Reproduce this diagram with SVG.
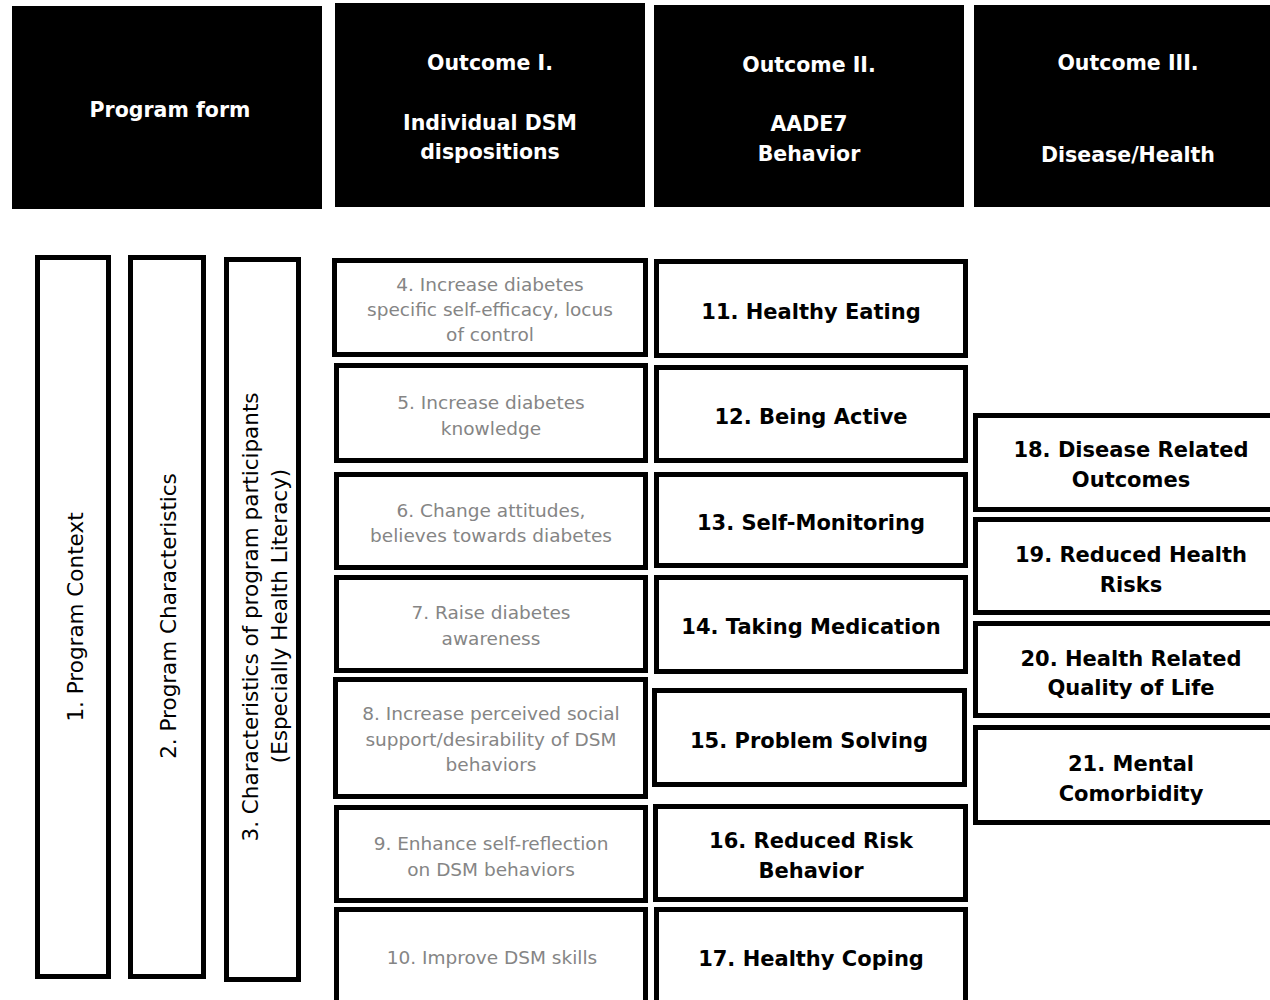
<svg xmlns="http://www.w3.org/2000/svg" width="1270" height="1000" viewBox="0 0 1270 1000">
<style>
.hdr{fill:#000}
.ht{fill:#fff;font-family:"DejaVu Sans",Verdana,sans-serif;font-weight:bold;font-size:20.5px;text-anchor:middle}
.box{fill:#fff;stroke:#000;stroke-width:5}
.vt{fill:#000;font-family:"DejaVu Sans",Verdana,sans-serif;font-size:21.5px;text-anchor:middle}
.gt{fill:#858585;font-family:"DejaVu Sans",Verdana,sans-serif;font-size:18.5px;text-anchor:middle}
.bt{fill:#000;font-family:"DejaVu Sans",Verdana,sans-serif;font-weight:bold;font-size:21px;text-anchor:middle}
</style>
<rect width="1270" height="1000" fill="#fff"/>
<g id="headers">
<g id="h-program-form"><rect class="hdr" x="12" y="6" width="310" height="203"/><text class="ht" x="170" y="117">Program form</text></g>
<g id="h-outcome1"><rect class="hdr" x="335" y="3" width="310" height="204"/><text class="ht" x="490" y="70">Outcome I.</text><text class="ht" x="490" y="130">Individual DSM</text><text class="ht" x="490" y="159">dispositions</text></g>
<g id="h-outcome2"><rect class="hdr" x="654" y="5" width="310" height="202"/><text class="ht" x="809" y="72">Outcome II.</text><text class="ht" x="809" y="131">AADE7</text><text class="ht" x="809" y="161">Behavior</text></g>
<g id="h-outcome3"><rect class="hdr" x="974" y="5" width="300" height="202"/><text class="ht" x="1128" y="70">Outcome III.</text><text class="ht" x="1128" y="162">Disease/Health</text></g>
</g>
<g id="connectors"></g>
<g id="n1"><rect class="box" x="37.5" y="257.5" width="71" height="719"/><text class="vt" transform="translate(83,617) rotate(-90)">1. Program Context</text></g>
<g id="n2"><rect class="box" x="130.5" y="257.5" width="73" height="719"/><text class="vt" transform="translate(176,616) rotate(-90)">2. Program Characteristics</text></g>
<g id="n3"><rect class="box" x="226.5" y="259.5" width="72" height="720"/><text class="vt" transform="translate(258,617) rotate(-90)">3. Characteristics of program participants</text><text class="vt" transform="translate(287,616) rotate(-90)">(Especially Health Literacy)</text></g>
<g id="n4"><rect class="box" x="334.5" y="260.5" width="311" height="94"/><text class="gt" x="490" y="291">4. Increase diabetes</text><text class="gt" x="490" y="316">specific self-efficacy, locus</text><text class="gt" x="490" y="341">of control</text></g>
<g id="n5"><rect class="box" x="336.5" y="365.5" width="309" height="95"/><text class="gt" x="491" y="409">5. Increase diabetes</text><text class="gt" x="491" y="435">knowledge</text></g>
<g id="n6"><rect class="box" x="336.5" y="474.5" width="309" height="93"/><text class="gt" x="491" y="517">6. Change attitudes,</text><text class="gt" x="491" y="542">believes towards diabetes</text></g>
<g id="n7"><rect class="box" x="336.5" y="577.5" width="309" height="93"/><text class="gt" x="491" y="619">7. Raise diabetes</text><text class="gt" x="491" y="645">awareness</text></g>
<g id="n8"><rect class="box" x="335.5" y="679.5" width="310" height="117"/><text class="gt" x="491" y="720">8. Increase perceived social</text><text class="gt" x="491" y="746">support/desirability of DSM</text><text class="gt" x="491" y="771">behaviors</text></g>
<g id="n9"><rect class="box" x="336.5" y="807.5" width="309" height="93"/><text class="gt" x="491" y="850">9. Enhance self-reflection</text><text class="gt" x="491" y="876">on DSM behaviors</text></g>
<g id="n10"><rect class="box" x="336.5" y="909.5" width="309" height="100"/><text class="gt" x="492" y="964">10. Improve DSM skills</text></g>
<g id="n11"><rect class="box" x="656.5" y="261.5" width="309" height="94"/><text class="bt" x="811" y="319">11. Healthy Eating</text></g>
<g id="n12"><rect class="box" x="656.5" y="367.5" width="309" height="93"/><text class="bt" x="811" y="424">12. Being Active</text></g>
<g id="n13"><rect class="box" x="656.5" y="474.5" width="309" height="91"/><text class="bt" x="811" y="530">13. Self-Monitoring</text></g>
<g id="n14"><rect class="box" x="656.5" y="577.5" width="309" height="94"/><text class="bt" x="811" y="634">14. Taking Medication</text></g>
<g id="n15"><rect class="box" x="654.5" y="690.5" width="310" height="94"/><text class="bt" x="809" y="748">15. Problem Solving</text></g>
<g id="n16"><rect class="box" x="655.5" y="806.5" width="310" height="93"/><text class="bt" x="811" y="848">16. Reduced Risk</text><text class="bt" x="811" y="878">Behavior</text></g>
<g id="n17"><rect class="box" x="656.5" y="909.5" width="309" height="100"/><text class="bt" x="811" y="966">17. Healthy Coping</text></g>
<g id="n18"><rect class="box" x="975.5" y="415.5" width="310" height="94"/><text class="bt" x="1131" y="457">18. Disease Related</text><text class="bt" x="1131" y="487">Outcomes</text></g>
<g id="n19"><rect class="box" x="975.5" y="519.5" width="310" height="93"/><text class="bt" x="1131" y="562">19. Reduced Health</text><text class="bt" x="1131" y="592">Risks</text></g>
<g id="n20"><rect class="box" x="975.5" y="623.5" width="310" height="92"/><text class="bt" x="1131" y="666">20. Health Related</text><text class="bt" x="1131" y="695">Quality of Life</text></g>
<g id="n21"><rect class="box" x="975.5" y="727.5" width="310" height="95"/><text class="bt" x="1131" y="771">21. Mental</text><text class="bt" x="1131" y="801">Comorbidity</text></g>
</svg>
